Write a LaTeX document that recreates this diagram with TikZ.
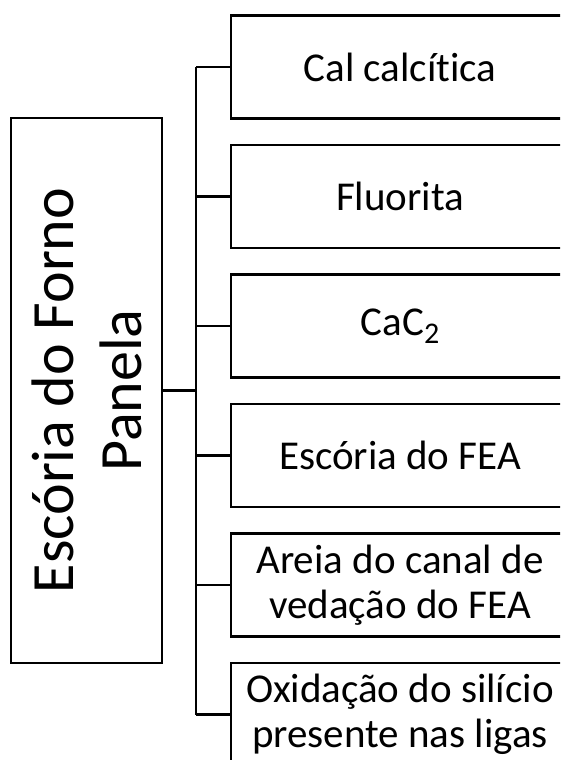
\documentclass[tikz,border=0pt]{standalone}
\usepackage{fontspec}
\setmainfont{Carlito}[Ligatures={NoCommon}]
\begin{document}
\begin{tikzpicture}[x=1pt,y=-1pt,
  line width=2.7pt,
  srcbox/.style={draw, line width=2.7pt, minimum width=338pt, minimum height=103pt, inner sep=0pt, align=center, font=\fontsize{41}{45}\selectfont},
  mainbox/.style={draw, line width=2.7pt, minimum width=151pt, minimum height=545pt, inner sep=0pt},
  maintext/.style={rotate=90, align=center, font=\fontsize{60}{68}\selectfont},
  link/.style={draw, line width=2.7pt}]
\useasboundingbox (0,0) rectangle (560,760);
\clip (0,0) rectangle (560,760);
\node[mainbox] (L) at (86.5,390.5) {};
\node[maintext] (Lt) at (L.center) {Escória do Forno\\Panela};
\node[srcbox] (b1) at (400,67) {Cal calcítica};
\node[srcbox] (b2) at (400,196.5) {Fluorita};
\node[srcbox] (b3) at (400,326) {CaC\raisebox{-8pt}{\fontsize{30}{30}\selectfont 2}};
\node[srcbox] (b4) at (400,455.5) {Escória do FEA};
\node[srcbox] (b5) at (400,585) {Areia do canal de\\vedação do FEA};
\node[srcbox] (b6) at (400,714.5) {Oxidação do silício\\presente nas ligas};
\coordinate (J) at (196,390.5);
\draw[link] (L.east) -- (J);
\draw[link] (J |- b1.west) -- (J |- b6.west);
\foreach \b in {b1,b2,b3,b4,b5,b6}{
  \draw[link] (J |- \b.west) -- (\b.west);
}
\end{tikzpicture}
\end{document}
